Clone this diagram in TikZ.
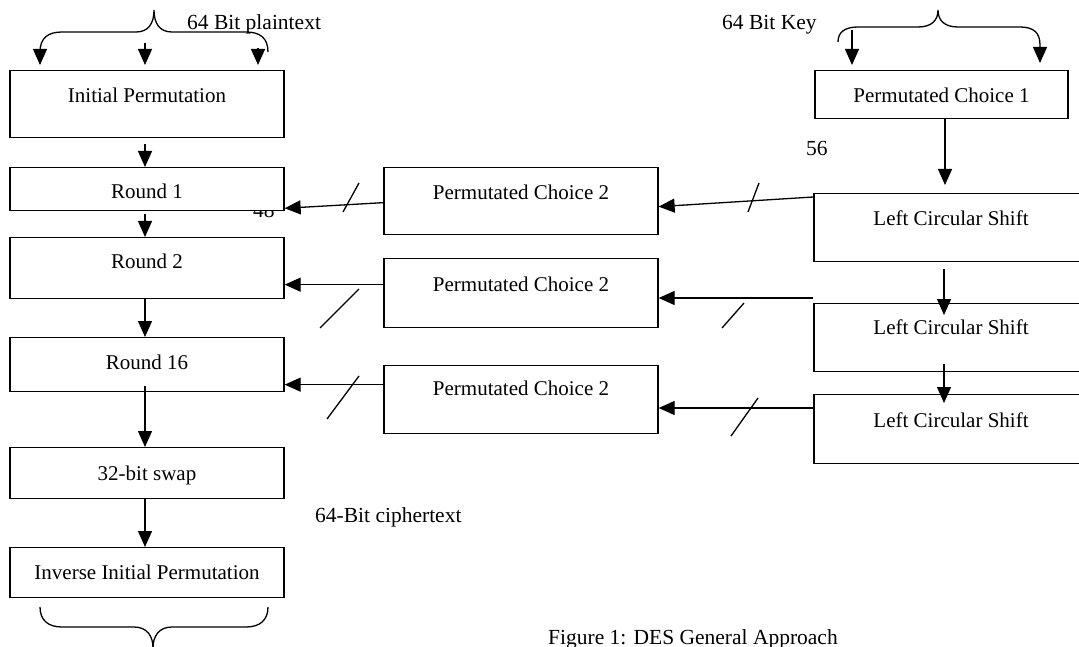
\documentclass[tikz,border=0pt]{standalone}
\usepackage{fontspec}
\setmainfont{Liberation Serif}
\usepackage{tikz}
\usetikzlibrary{arrows.meta,positioning,calc}

\begin{document}
\begin{tikzpicture}[
    x=1pt, y=-1pt,
    box/.style={draw, line width=1.3pt, fill=white, inner sep=0pt, anchor=north, minimum width=274pt, font=\fontsize{21}{24}\selectfont},
    arr/.style={line width=1.3pt, -{Triangle[length=16pt,width=14pt]}},
    brace/.style={line width=1.3pt},
    slash/.style={line width=1.3pt},
    lbl/.style={font=\fontsize{21.5}{26}\selectfont, inner sep=0pt, anchor=base west}
]
    \useasboundingbox (0,0) rectangle (1079,647);

    % label half hidden behind Round 1
    \node[lbl] (n48) at (253,218) {48};

    % Data path
    \node[box, text height=32pt, text depth=35pt] (ip) at (147,70) {Initial Permutation};
    \node[box, text height=31pt, text depth=12pt] (r1) at (147,167) {Round 1};
    \node[box, text height=31pt, text depth=30pt] (r2) at (147,237) {Round 2};
    \node[box, text height=32pt, text depth=22pt] (r16) at (147,337) {Round 16};
    \node[box, text height=33pt, text depth=18pt] (swap) at (147,447) {32-bit swap};
    \node[box, text height=32pt, text depth=18pt] (iip) at (147,547) {Inverse Initial Permutation};

    % Key schedule
    \node[box, minimum width=253pt, text height=32pt, text depth=16pt] (pc1) at (941.5,70) {Permutated Choice 1};
    \node[box, text height=32pt, text depth=36pt] (lcs1) at (951,193) {Left Circular Shift};
    \node[box, text height=31pt, text depth=37pt] (lcs2) at (951,303) {Left Circular Shift};
    \node[box, text height=33pt, text depth=36pt] (lcs3) at (951,394) {Left Circular Shift};

    \node[box, text height=32pt, text depth=35pt] (pc2a) at (521,167) {Permutated Choice 2};
    \node[box, text height=33pt, text depth=36pt] (pc2b) at (521,258) {Permutated Choice 2};
    \node[box, text height=30pt, text depth=38pt] (pc2c) at (521,365) {Permutated Choice 2};

    % Labels
    \node[lbl] (ptxt) at (187,30) {64 Bit plaintext};
    \node[lbl] (ktxt) at (722,30) {64 Bit Key};
    \node[lbl] (n56) at (806,156) {56};
    \node[lbl] (ctxt) at (315,522) {64-Bit ciphertext};
    \node[lbl] (cap) at (548,644) {Figure 1: DES General Approach};

    % Braces
    \coordinate (plL) at (40,52);
    \coordinate (plM) at (145,43);
    \coordinate (plR) at (258,48);
    \coordinate (keyL) at (852,30);
    \coordinate (keyR) at (1040,45);
    \draw[brace, arr] (268,52) .. controls (268,38) and (260,32) .. (246,32) -- (172,32)
        .. controls (160,32) and (154,24) .. (154,10) .. controls (154,24) and (148,32) .. (136,32)
        -- (62,32) .. controls (48,32) and (40,38) .. (plL) -- ([yshift=5pt]plL |- ip.north);
    \draw[arr] (plM) -- ([yshift=5pt]plM |- ip.north);
    \draw[arr] (plR) -- ([yshift=5pt]plR |- ip.north);

    \draw[brace, arr] (838,42) .. controls (838,32) and (845,27) .. (858,27) -- (918,27)
        .. controls (932,27) and (938,20) .. (938,10) .. controls (938,20) and (944,27) .. (958,27)
        -- (1020,27) .. controls (1034,27) and (1040,33) .. (keyR) -- ([yshift=7pt]keyR |- pc1.north);
    \draw[arr] (keyL) -- ([yshift=5pt]keyL |- pc1.north);

    \draw[brace] (40,607) .. controls (40,620) and (48,627) .. (62,627) -- (134,627)
        .. controls (147,627) and (153,636) .. (153,648) .. controls (153,636) and (159,627) .. (172,627)
        -- (246,627) .. controls (260,627) and (268,620) .. (268,607);

    % Vertical flow
    \foreach \a/\b/\s in {ip/r1/-6, r1/r2/-3, r2/r16/0, r16/swap/6, swap/iip/0}
        \draw[arr] ([xshift=-2pt,yshift=\s pt]\a.south) -- ([xshift=-2pt]\b.north);
    \draw[arr] ([xshift=3.5pt]pc1.south) -- ([xshift=3.5pt,yshift=8pt]pc1.south |- lcs1.north);
    \draw[arr] ([xshift=-7pt,yshift=-7pt]lcs1.south) -- ([xshift=-7pt,yshift=-12pt]lcs2.north);
    \draw[arr] ([xshift=-7pt,yshift=8pt]lcs2.south) -- ([xshift=-7pt,yshift=-9pt]lcs3.north);

    % Subkeys
    \draw[arr] ([yshift=-4pt]lcs1.north west) -- ([yshift=-5.5pt]pc2a.east);
    \draw[arr] ([yshift=-1.5pt]pc2a.west) -- ([yshift=3pt]r1.south east);
    \draw[arr] ([yshift=5pt]lcs2.north west) -- ([yshift=5pt]lcs2.north west -| pc2b.east);
    \draw[arr] ([yshift=8.5pt]pc2b.west) -- ([yshift=8.5pt]pc2b.west -| r2.east);
    \draw[arr] ([yshift=-14pt]lcs3.north west) -- ([yshift=-14pt]lcs3.north west -| pc2c.east);
    \draw[arr] ([yshift=15pt]pc2c.west) -- ([yshift=15pt]pc2c.west -| r16.east);

    % Bit width marks
    \draw[slash] (343,212) -- (359,183);
    \draw[slash] (748,212) -- (759,183);
    \draw[slash] (320,328) -- (359,289);
    \draw[slash] (722,328) -- (744,303);
    \draw[slash] (327,419) -- (359,376);
    \draw[slash] (731,436) -- (758,398);
\end{tikzpicture}
\end{document}
